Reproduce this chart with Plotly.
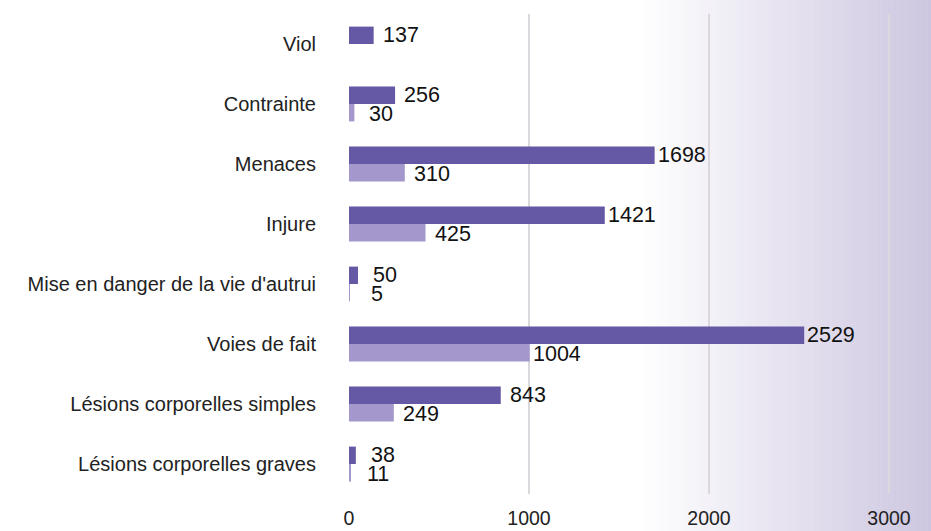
import plotly.graph_objects as go

categories = [
    "Viol",
    "Contrainte",
    "Menaces",
    "Injure",
    "Mise en danger de la vie d'autrui",
    "Voies de fait",
    "Lésions corporelles simples",
    "Lésions corporelles graves",
]
series_dark = [137, 256, 1698, 1421, 50, 2529, 843, 38]
series_light = [None, 30, 310, 425, 5, 1004, 249, 11]
x_ticks = [0, 1000, 2000, 3000]

DARK = "#6559a6"
LIGHT = "#a397cb"
FONT = "Liberation Sans, Arial, Helvetica, sans-serif"

W, H = 931, 531
ML, MR, MT, MB = 349, 0, 14, 37
plot_w = W - ML - MR

fig = go.Figure()
fig.add_trace(go.Bar(y=categories, x=series_dark, orientation="h",
                     marker=dict(color=DARK, line=dict(width=0)), name="dark"))
fig.add_trace(go.Bar(y=categories, x=series_light, orientation="h",
                     marker=dict(color=LIGHT, line=dict(width=0)), name="light"))

# value labels centred a little beyond each bar end
annotations = []
for cat, v in zip(categories, series_dark):
    if v is not None:
        annotations.append(dict(x=v, y=cat, text=str(v), showarrow=False,
                                xanchor="center", yanchor="middle",
                                xshift=27, yshift=9,
                                font=dict(size=21.5, color="#111", family=FONT)))
for cat, v in zip(categories, series_light):
    if v is not None:
        annotations.append(dict(x=v, y=cat, text=str(v), showarrow=False,
                                xanchor="center", yanchor="middle",
                                xshift=27, yshift=-10,
                                font=dict(size=21.5, color="#111", family=FONT)))

# horizontal background gradient on the right side (white -> lavender)
shapes = []
g_start, g_end = 640, W
end_rgb = (205, 198, 224)
n = 120
step = (g_end - g_start) / n
for i in range(n):
    px0 = g_start + i * step
    px1 = px0 + step + 0.6
    t = (i + 0.5) / n
    r = round(255 + (end_rgb[0] - 255) * t)
    g = round(255 + (end_rgb[1] - 255) * t)
    b = round(255 + (end_rgb[2] - 255) * t)
    shapes.append(dict(type="rect", xref="paper", yref="paper",
                       x0=(px0 - ML) / plot_w, x1=(px1 - ML) / plot_w,
                       y0=-MB / (H - MT - MB) - 0.01, y1=1 + MT / (H - MT - MB) + 0.01,
                       fillcolor=f"rgb({r},{g},{b})", line=dict(width=0),
                       layer="below"))

fig.update_layout(
    width=W, height=H,
    margin=dict(l=ML, r=MR, t=MT, b=MB),
    paper_bgcolor="white",
    plot_bgcolor="rgba(0,0,0,0)",
    barmode="group",
    bargap=0.42,
    bargroupgap=0,
    showlegend=False,
    annotations=annotations,
    shapes=shapes,
    font=dict(family=FONT, color="#222"),
    xaxis=dict(range=[0, plot_w / 0.18], tickvals=x_ticks,
               showgrid=True, gridcolor="#d9d9dd", gridwidth=1.5,
               zeroline=False, showline=False, ticks="",
               ticklabelstandoff=10,
               tickfont=dict(size=19.5, color="#222", family=FONT)),
    yaxis=dict(autorange="reversed", showgrid=False, zeroline=False,
               showline=False, ticks="", ticklabelstandoff=32,
               tickfont=dict(size=20, color="#222", family=FONT)),
)

fig.write_html("out.html")
